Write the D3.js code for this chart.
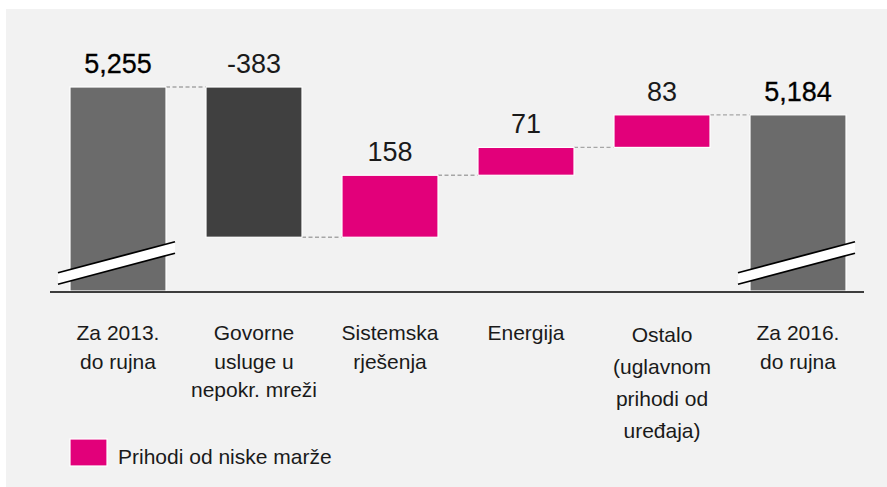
<!DOCTYPE html>
<html><head><meta charset="utf-8">
<script src="https://cdn.jsdelivr.net/npm/d3@7"></script>
<style>html,body{margin:0;padding:0;background:#fff;}svg{display:block;font-family:"Liberation Sans",Arial,sans-serif;}</style>
</head><body>
<svg id="c" width="887" height="487"></svg>
<script>
const categories = [
  ["Za 2013.", "do rujna"],
  ["Govorne", "usluge u", "nepokr. mreži"],
  ["Sistemska", "rješenja"],
  ["Energija"],
  ["Ostalo", "(uglavnom", "prihodi od", "uređaja)"],
  ["Za 2016.", "do rujna"]
];
const values = [5255, -383, 158, 71, 83, 5184];
const kinds = ["total", "decrease", "low", "low", "low", "total"];
const valueLabels = ["5,255", "-383", "158", "71", "83", "5,184"];
const legendLabel = "Prihodi od niske marže";
const axisBreakValue = 4735;

const colors = {total: "#6b6b6b", decrease: "#404040", low: "#e2007a"};

const svg = d3.select("#c");
svg.append("rect").attr("x", 6).attr("y", 9).attr("width", 881).attr("height", 478).attr("fill", "#f2f2f2");

const x = d3.scaleBand().domain(d3.range(values.length)).range([50, 866]).paddingInner(0.294).paddingOuter(0.147);
const y = d3.scaleLinear().domain([axisBreakValue, 5255]).range([291, 87]);

let run = 0;
const segs = values.map((v, i) => {
  let lo, hi;
  if (kinds[i] === "total") { lo = axisBreakValue; hi = v; run = v; }
  else { const s = run; run = run + v; lo = Math.min(s, run); hi = Math.max(s, run); }
  return {i, lo, hi, end: kinds[i] === "total" ? v : run, v};
});

const g = svg.append("g");
for (let i = 0; i < segs.length - 1; i++) {
  const lvl = segs[i].end;
  g.append("line")
    .attr("x1", x(i) + x.bandwidth()).attr("x2", x(i + 1))
    .attr("y1", y(lvl)).attr("y2", y(lvl))
    .attr("stroke", "#a6a6a6").attr("stroke-width", 1.3).attr("stroke-dasharray", "4,2.5");
}

g.selectAll("rect.bar").data(segs).enter().append("rect")
  .attr("class", "bar")
  .attr("x", d => x(d.i)).attr("width", x.bandwidth())
  .attr("y", d => y(d.hi)).attr("height", d => y(d.lo) - y(d.hi))
  .attr("fill", d => colors[kinds[d.i]])
  .attr("stroke", "#fff").attr("stroke-width", 1.2);

svg.append("line").attr("x1", 50).attr("x2", 864).attr("y1", 292).attr("y2", 292)
  .attr("stroke", "#000").attr("stroke-width", 1.6);

segs.filter(d => kinds[d.i] === "total").forEach(d => {
  const x0 = x(d.i) - 12, x1 = x(d.i) + x.bandwidth() + 9;
  const yl = 278.5, yr = 247.5, h = 11.5;
  svg.append("path")
    .attr("d", `M${x0},${yl - h/2}L${x1},${yr - h/2}L${x1},${yr + h/2}L${x0},${yl + h/2}Z`)
    .attr("fill", "#fff");
  [-h/2, h/2].forEach(o => {
    svg.append("line").attr("x1", x0).attr("y1", yl + o).attr("x2", x1).attr("y2", yr + o)
      .attr("stroke", "#000").attr("stroke-width", 1.8);
  });
});

svg.selectAll("text.val").data(segs).enter().append("text")
  .attr("class", "val")
  .attr("x", d => x(d.i) + x.bandwidth() / 2)
  .attr("y", d => y(d.hi) - 14)
  .attr("text-anchor", "middle")
  .attr("font-size", 27)
  .attr("fill", d => kinds[d.i] === "total" ? "#000" : "#1a1a1a")
  .attr("stroke", d => kinds[d.i] === "total" ? "#000" : "none")
  .attr("stroke-width", 0.3)
  .text((d, i) => valueLabels[i]);

categories.forEach((lines, i) => {
  const lh = lines.length > 3 ? 32 : 28.5;
  const t = svg.append("text").attr("text-anchor", "middle").attr("font-size", 21).attr("fill", "#1a1a1a");
  lines.forEach((l, j) => {
    t.append("tspan").attr("x", x(i) + x.bandwidth() / 2).attr("y", (lines.length > 3 ? 342 : 340) + j * lh).text(l);
  });
});

svg.append("rect").attr("x", 70).attr("y", 439).attr("width", 37).attr("height", 27)
  .attr("fill", colors.low).attr("stroke", "#fff").attr("stroke-width", 1.2);
svg.append("text").attr("x", 118).attr("y", 464).attr("font-size", 21).attr("fill", "#1a1a1a").text(legendLabel);
</script>
</body></html>
